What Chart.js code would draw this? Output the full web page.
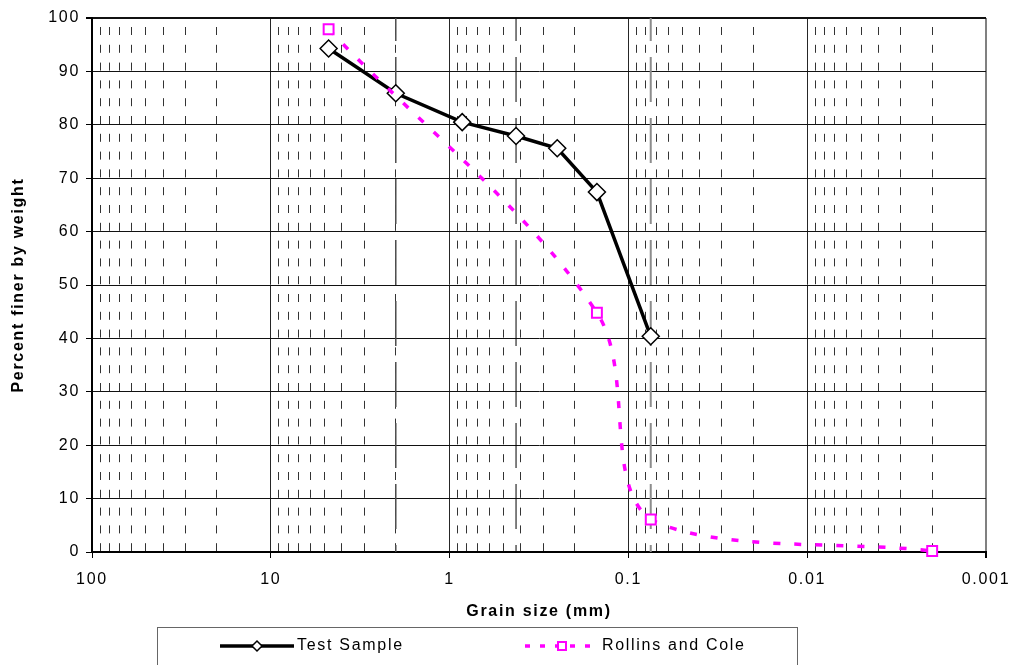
<!DOCTYPE html>
<html>
<head>
<meta charset="utf-8">
<title>Grain size distribution</title>
<script src="https://cdn.jsdelivr.net/npm/chart.js@4.4.1/dist/chart.umd.min.js"></script>
<style>
  html, body { margin: 0; padding: 0; background: #fff; }
  #grading { display: block; }
</style>
</head>
<body>
<canvas id="grading" width="1013" height="665"></canvas>
<script>
/* Grain size distribution — percent finer vs. grain size (log, reversed) */

// axis ticks
var decades = [100, 10, 1, 0.1, 0.01, 0.001];
var minorSteps = [2, 3, 4, 5, 6, 7, 8, 9];

// test sample (sieve analysis)
var testSize  = [4.75, 2.0, 0.85, 0.425, 0.25, 0.15, 0.075];
var testFiner = [94.3, 85.9, 80.5, 77.9, 75.6, 67.4, 40.4];

// Rollins and Cole gradation
var rcSize  = [4.75, 0.15, 0.075, 0.002];
var rcFiner = [97.9, 44.8, 6.1, 0.2];

// sieve marker lines (#10, #40, #200)
var sieveSizes = [2.0, 0.425, 0.075];

var minorTicks = [];
decades.slice(1).forEach(function (d) {
  minorSteps.forEach(function (m) { minorTicks.push(d * m); });
});

function pairs(xs, ys) {
  return xs.map(function (x, i) { return { x: x, y: ys[i] }; });
}

var FONT = '"Liberation Sans", Arial, Helvetica, sans-serif';
Chart.defaults.font.family = FONT;
Chart.defaults.font.size = 16;
Chart.defaults.color = '#000';

// Excel-like wide text
var spacing = {
  id: 'spacing',
  beforeUpdate: function (c) { c.ctx.letterSpacing = '1.7px'; },
  beforeDraw: function (c) { c.ctx.letterSpacing = '1.7px'; }
};

// boxed legend with line + marker samples
var legendBox = {
  id: 'legendBox',
  afterDraw: function (chart) {
    var ctx = chart.ctx;
    var sets = chart.data.datasets.filter(function (d) { return d.inLegend; });
    var slots = [220, 525];
    var cy = 646;
    ctx.save();
    ctx.strokeStyle = '#666';
    ctx.lineWidth = 1;
    ctx.setLineDash([]);
    ctx.strokeRect(157.5, 627.5, 640, 60);
    sets.forEach(function (d, i) {
      var x0 = slots[i], x1 = x0 + 74, cx = x0 + 37;
      ctx.beginPath();
      ctx.setLineDash(d.borderDash ? [5, 10] : []);
      ctx.lineWidth = d.borderWidth;
      ctx.strokeStyle = d.borderColor;
      ctx.moveTo(x0, cy);
      ctx.lineTo(x1, cy);
      ctx.stroke();
      ctx.setLineDash([]);
      ctx.fillStyle = '#fff';
      ctx.strokeStyle = d.pointBorderColor;
      ctx.lineWidth = d.pointBorderWidth;
      ctx.beginPath();
      if (d.pointStyle === 'rectRot') {
        ctx.moveTo(cx - 5, cy); ctx.lineTo(cx, cy - 5);
        ctx.lineTo(cx + 5, cy); ctx.lineTo(cx, cy + 5);
        ctx.closePath();
      } else {
        ctx.rect(cx - 4, cy - 4, 8, 8);
      }
      ctx.fill();
      ctx.stroke();
      ctx.fillStyle = '#000';
      ctx.font = '16px ' + FONT;
      ctx.textBaseline = 'middle';
      ctx.textAlign = 'left';
      ctx.fillText(d.label, x1 + 3, cy);
    });
    ctx.restore();
  }
};

var sieveColors = ['#4d4d4d', '#000', '#8c8c8c'];
var sieveWidths = [1.5, 1, 2];

var datasets = [
  {
    label: 'Test Sample',
    inLegend: true,
    data: pairs(testSize, testFiner),
    showLine: true,
    borderColor: '#000',
    borderWidth: 3.5,
    tension: 0,
    pointStyle: 'rectRot',
    pointRadius: 8.5,
    pointBackgroundColor: '#fff',
    pointBorderColor: '#000',
    pointBorderWidth: 1.5,
    clip: false,
    order: 2
  },
  {
    label: 'Rollins and Cole',
    inLegend: true,
    data: pairs(rcSize, rcFiner),
    showLine: true,
    borderColor: '#ff00ff',
    borderWidth: 3.5,
    borderDash: [7, 14],
    tension: 0.33,
    pointStyle: 'rect',
    pointRadius: 7,
    pointBackgroundColor: '#fff',
    pointBorderColor: '#ff00ff',
    pointBorderWidth: 2,
    clip: false,
    order: 1
  }
];

sieveSizes.forEach(function (s, i) {
  datasets.push({
    label: 'sieve ' + s,
    data: [{ x: s, y: 0 }, { x: s, y: 100 }],
    showLine: true,
    borderColor: sieveColors[i],
    borderWidth: sieveWidths[i],
    borderDash: [45, 16],
    borderDashOffset: 38,
    pointRadius: 0,
    order: 3
  });
});

new Chart(document.getElementById('grading'), {
  type: 'scatter',
  data: { datasets: datasets },
  plugins: [spacing, legendBox],
  options: {
    responsive: false,
    animation: false,
    events: [],
    layout: { padding: { top: 18, right: 27, bottom: 0, left: 0 } },
    plugins: { legend: { display: false }, tooltip: { enabled: false } },
    scales: {
      x: {
        type: 'logarithmic',
        position: 'bottom',
        reverse: true,
        min: 0.001,
        max: 100,
        afterBuildTicks: function (s) {
          s.ticks = decades.map(function (v) { return { value: v }; });
        },
        afterFit: function (s) {
          s.height = 113;
          s.paddingLeft = 0;
          s.paddingRight = 0;
        },
        ticks: {
          autoSkip: false,
          maxRotation: 0,
          padding: 12,
          color: '#000',
          font: { size: 16 },
          callback: function (v) { return String(v); }
        },
        grid: {
          color: function (c) { return c.tick && c.tick.value === 0.001 ? '#808080' : '#262626'; },
          lineWidth: function (c) { return c.tick && c.tick.value === 0.001 ? 2 : 1; },
          tickLength: 6,
          tickColor: '#000'
        },
        border: { color: '#000', width: 2 },
        title: {
          display: true,
          text: 'Grain size (mm)',
          color: '#000',
          font: { size: 16, weight: 'bold' },
          padding: { top: 0, bottom: 44 }
        }
      },
      x2: {
        type: 'logarithmic',
        position: 'top',
        reverse: true,
        min: 0.001,
        max: 100,
        afterBuildTicks: function (s) {
          s.ticks = minorTicks.map(function (v) { return { value: v }; });
        },
        afterFit: function (s) {
          s.height = 0;
          s.paddingLeft = 0;
          s.paddingRight = 0;
        },
        ticks: { display: false },
        grid: { color: '#333', lineWidth: 1, drawTicks: false },
        border: { display: false, dash: [8, 9.8], dashOffset: 8.8 }
      },
      y: {
        min: 0,
        max: 100,
        afterFit: function (s) { s.width = 92; },
        ticks: { stepSize: 10, padding: 6, color: '#000', font: { size: 16 } },
        grid: {
          color: '#111',
          lineWidth: function (c) { return c.tick && c.tick.value === 100 ? 2 : 1; },
          tickLength: 6,
          tickColor: '#000'
        },
        border: { color: '#000', width: 2 },
        title: {
          display: true,
          text: 'Percent finer by weight',
          color: '#000',
          font: { size: 16, weight: 'bold' },
          padding: { top: 9, bottom: 0 }
        }
      }
    }
  }
});
</script>
</body>
</html>
